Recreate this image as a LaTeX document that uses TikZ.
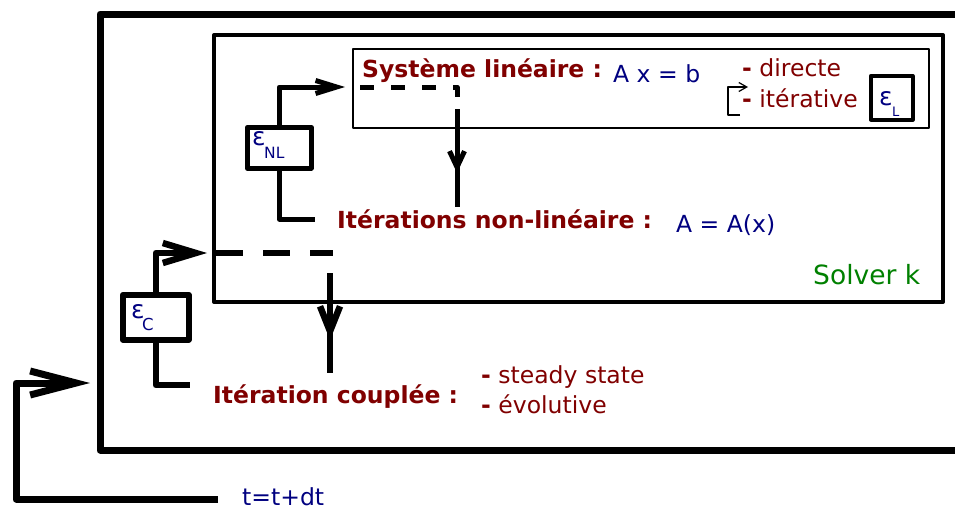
\documentclass[tikz,border=0pt]{standalone}
\usepackage{fontspec}
\setmainfont{DejaVu Sans}
\usetikzlibrary{arrows.meta}
\definecolor{dred}{RGB}{128,0,0}
\definecolor{dblue}{RGB}{0,0,128}
\definecolor{dgreen}{RGB}{0,128,0}
\begin{document}
\begin{tikzpicture}[x=1pt,y=-1pt,line join=round,
  box/.style={draw, rectangle, inner sep=0pt, anchor=north west},
  lbl/.style={anchor=base west, inner sep=0pt, font=\fontsize{23.5}{28}\selectfont},
  ttl/.style={lbl, text=dred, font=\fontsize{23.5}{28}\selectfont\bfseries},
  red/.style={lbl, text=dred},
  blu/.style={lbl, text=dblue},
  eps/.style={lbl, text=dblue, font=\fontsize{25}{28}\selectfont},
  sub/.style={anchor=base west, inner sep=0pt, text=dblue},
  link/.style={line width=#1, line cap=butt},
]
\useasboundingbox (0,0) rectangle (955,509);

% outer time box (open to the right)
\draw[line width=7pt] (960,14) -- (100,14) -- (100,450) -- (960,450);

% boxes
\node[box, line width=4pt, minimum width=729pt, minimum height=267pt] (solver) at (212,33) {};
\node[box, line width=1.8pt, minimum width=576pt, minimum height=79pt] (syslin) at (352,48) {};
\node[box, line width=3.5pt, minimum width=42pt, minimum height=44pt] (epsL) at (869,74) {};
\node[box, line width=4.5pt, minimum width=64pt, minimum height=41pt] (epsNL) at (245,125) {};
\node[box, line width=5.5pt, minimum width=66pt, minimum height=45pt] (epsC) at (120,292) {};

% epsilon labels
\node[eps] (eL) at (879,105) {ε};
\node[sub, font=\fontsize{13}{15}\selectfont] (eLs) at (892,116) {L};
\node[eps] (eNL) at (252,145) {ε};
\node[sub, font=\fontsize{15.5}{18}\selectfont] (eNLs) at (264,158) {NL};
\node[eps] (eC) at (131,318) {ε};
\node[sub, font=\fontsize{16.5}{19}\selectfont] (eCs) at (142,330) {C};

% texts
\node[ttl] (tsys) at (362,77) {Système linéaire :};
\node[blu] (axb) at (613,82) {A x = b};
\node[red] (dir) at (742,76) {\textbf{-} directe};
\node[red] (ite) at (742,107) {\textbf{-} itérative};
\node[ttl] (tnl) at (337,228) {Itérations non-linéaire :};
\node[blu] (aax) at (676,232) {A = A(x)};
\node[lbl, text=dgreen, font=\fontsize{26.5}{30}\selectfont] (solk) at (813,284) {Solver k};
\node[ttl] (tcp) at (213,403) {Itération couplée :};
\node[red] (ss) at (481,383) {\textbf{-} steady state};
\node[red] (evo) at (481,413) {\textbf{-} évolutive};
\node[blu] (tdt) at (242,505) {t=t+dt};

% coordinates
\coordinate (nlTip) at (345,87);
\coordinate (nlEnd) at (315,219);
\coordinate (nlD0) at (360,87);
\coordinate (nlD1) at (457,87);
\coordinate (nlS0) at (457,109);
\coordinate (nlMid) at (457,173);
\coordinate (nlS1) at (457,207);
\coordinate (brT) at (748,87);
\coordinate (brB) at (740,115);
\coordinate (cTip) at (207,253);
\coordinate (cEnd) at (190,385);
\coordinate (cD0) at (216,253);
\coordinate (cD1) at (333,253);
\coordinate (cS0) at (330,273);
\coordinate (cMid) at (330,340);
\coordinate (cS1) at (330,373);
\coordinate (tStart) at (218,499);
\coordinate (tTip) at (90,383);

% iterative bracket
\draw[line width=1.2pt, -{Straight Barb[length=8pt,width=9pt]}] (brB) -- (728,115) -- (728,87) -- (brT);

% non-linear loop
\draw[link=5pt, -{Straight Barb[length=21pt,width=13pt]}] (epsNL.north) |- (nlTip);
\draw[link=5pt] (epsNL.south) |- (nlEnd);
\draw[link=5pt, dash pattern=on 14pt off 17pt] (nlD0) -- (nlD1) -- (nlS0);
\draw[link=5pt] (nlS0) -- (nlS1);
\draw[link=5pt, -{Straight Barb[length=16pt,width=15pt]}] (nlS0) -- (nlMid);

% coupled loop
\draw[link=6.5pt, -{Straight Barb[length=33pt,width=20pt]}] (epsC.north) |- (cTip);
\draw[link=6.5pt] (epsC.south) |- (cEnd);
\draw[link=6.5pt, dash pattern=on 27pt off 20pt] (cD0) -- (cD1);
\draw[link=6.5pt] (cS0) -- (cS1);
\draw[link=6.5pt, -{Straight Barb[length=25pt,width=20pt]}] (cS0) -- (cMid);

% time loop
\draw[line width=7pt, -{Straight Barb[length=46pt,width=24pt]}] (tStart) -- (16,499) -- (16,383) -- (tTip);
\end{tikzpicture}
\end{document}
